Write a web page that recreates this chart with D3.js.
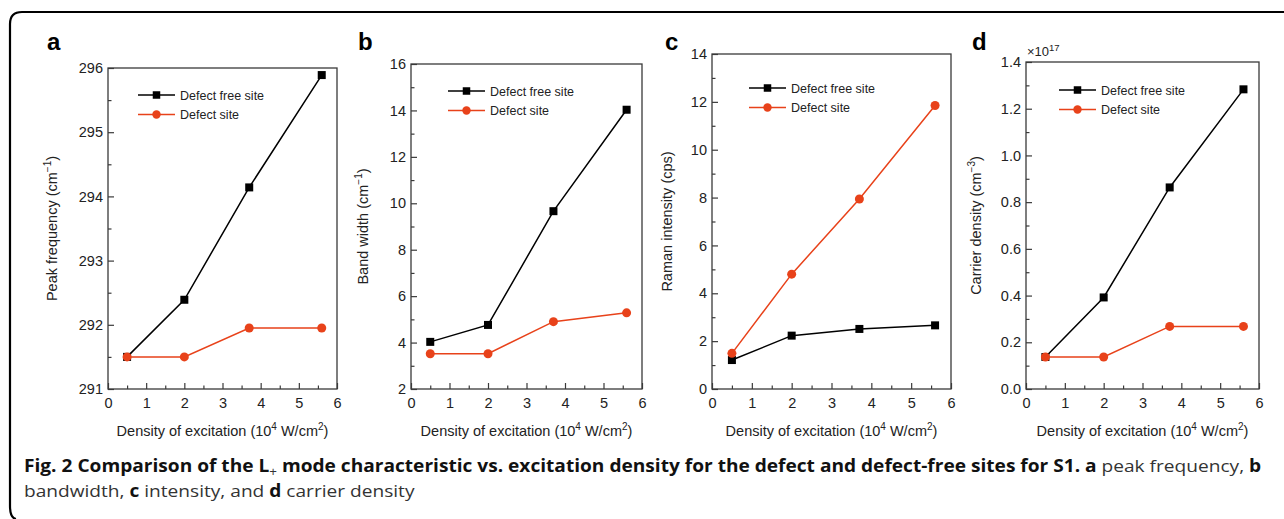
<!DOCTYPE html>
<html>
<head>
<meta charset="utf-8">
<script src="https://cdn.jsdelivr.net/npm/d3@7"></script>
<style>
  html, body { margin: 0; padding: 0; background: #fff; }
  svg { display: block; }
  text { font-family: "Liberation Sans", Arial, Helvetica, sans-serif; }
</style>
</head>
<body>
<svg id="chart" width="1284" height="519"></svg>
<script>
// ---------------- DATA ----------------
const xValues = [0.5, 2, 3.7, 5.6];
const seriesNames = ["Defect free site", "Defect site"];

const peakFreqFree   = [291.5, 292.39, 294.14, 295.89];
const peakFreqDefect = [291.5, 291.5, 291.95, 291.95];

const bandWidthFree   = [4.03, 4.76, 9.66, 14.03];
const bandWidthDefect = [3.52, 3.52, 4.9, 5.28];

const ramanFree   = [1.21, 2.23, 2.51, 2.66];
const ramanDefect = [1.49, 4.8, 7.94, 11.85];

const carrierFree   = [0.137, 0.392, 0.863, 1.283];
const carrierDefect = [0.137, 0.137, 0.268, 0.268];

const xTicks = [0, 1, 2, 3, 4, 5, 6];
const xMinorTicks = [0.5, 1.5, 2.5, 3.5, 4.5, 5.5];
const yTicksA = [291, 292, 293, 294, 295, 296];
const yTicksB = [2, 4, 6, 8, 10, 12, 14, 16];
const yTicksC = [0, 2, 4, 6, 8, 10, 12, 14];
const yTicksD = [0, 0.2, 0.4, 0.6, 0.8, 1.0, 1.2, 1.4];
const panelLetters = ["a", "b", "c", "d"];

// ---------------- LAYOUT ----------------
const panels = [
  { letter: panelLetters[0], free: peakFreqFree, defect: peakFreqDefect, yTicks: yTicksA, fmt: d3.format("d"),
    yTitle: ["Peak frequency (cm", "\u22121", ")"],
    L: 108, R: 337, T: 68, B: 389, letterX: 47, titleX: 57, legX: 138, legY: 95 },
  { letter: panelLetters[1], free: bandWidthFree, defect: bandWidthDefect, yTicks: yTicksB, fmt: d3.format("d"),
    yTitle: ["Band width (cm", "\u22121", ")"],
    L: 411, R: 642, T: 64, B: 389, letterX: 358, titleX: 368, legX: 448, legY: 91 },
  { letter: panelLetters[2], free: ramanFree, defect: ramanDefect, yTicks: yTicksC, fmt: d3.format("d"),
    yTitle: ["Raman intensity (cps)", null, null],
    L: 712, R: 951, T: 54, B: 389, letterX: 665, titleX: 672, legX: 749, legY: 88 },
  { letter: panelLetters[3], free: carrierFree, defect: carrierDefect, yTicks: yTicksD, fmt: d3.format(".1f"),
    yTitle: ["Carrier density (cm", "\u22123", ")"],
    L: 1026, R: 1259, T: 62, B: 389, letterX: 972, titleX: 981, legX: 1059, legY: 90, exp: "17" }
];

const BLACK = "#000000";
const RED = "#e8421a";
const AXIS = "#3a3a3a";

const svg = d3.select("#chart");

// outer rounded border (left + top visible)
svg.append("path")
  .attr("d", "M 1290 12 L 22 12 Q 10 12 10 24 L 10 506 Q 10 518 16 519")
  .attr("fill", "none").attr("stroke", "#000").attr("stroke-width", 2.2);

panels.forEach(p => {
  const g = svg.append("g");
  const x = d3.scaleLinear().domain([0, 6]).range([p.L, p.R]);
  const yMin = p.yTicks[0], yMax = p.yTicks[p.yTicks.length - 1];
  const y = d3.scaleLinear().domain([yMin, yMax]).range([p.B, p.T]);
  const step = p.yTicks[1] - p.yTicks[0];
  const yMinor = p.yTicks.slice(0, -1).map(v => v + step / 2);

  const xa = g.append("g").attr("transform", `translate(0,${p.B})`)
    .call(d3.axisBottom(x).tickValues(xTicks).tickSizeInner(-6).tickSizeOuter(0).tickPadding(9).tickFormat(d3.format("d")));
  const xm = g.append("g").attr("transform", `translate(0,${p.B})`)
    .call(d3.axisBottom(x).tickValues(xMinorTicks).tickSizeInner(-3.5).tickSizeOuter(0).tickFormat(""));
  const ya = g.append("g").attr("transform", `translate(${p.L},0)`)
    .call(d3.axisLeft(y).tickValues(p.yTicks).tickSizeInner(-6).tickSizeOuter(0).tickPadding(5).tickFormat(p.fmt));
  const ym = g.append("g").attr("transform", `translate(${p.L},0)`)
    .call(d3.axisLeft(y).tickValues(yMinor).tickSizeInner(-3.5).tickSizeOuter(0).tickFormat(""));
  [xa, xm, ya, ym].forEach(a => {
    a.select(".domain").remove();
    a.selectAll(".tick line").attr("stroke", AXIS).attr("stroke-width", 1.2);
    a.selectAll(".tick text").attr("fill", "#222").attr("font-size", 14.5)
      .attr("font-family", "Liberation Sans, Arial, sans-serif");
  });

  g.append("rect").attr("x", p.L).attr("y", p.T).attr("width", p.R - p.L).attr("height", p.B - p.T)
    .attr("fill", "none").attr("stroke", AXIS).attr("stroke-width", 1.3);

  if (p.exp) {
    const t = g.append("text").attr("x", p.L + 1).attr("y", p.T - 6).attr("font-size", 13).attr("fill", "#222");
    t.append("tspan").text("\u00d710");
    t.append("tspan").attr("font-size", 9.5).attr("dy", -5).text(p.exp);
  }

  g.append("text").attr("x", p.letterX).attr("y", 50).attr("font-size", 24).attr("font-weight", "bold")
    .attr("fill", "#000").text(p.letter);

  const yt = g.append("text")
    .attr("transform", `translate(${p.titleX},${(p.T + p.B) / 2}) rotate(-90)`)
    .attr("text-anchor", "middle").attr("font-size", 14.5).attr("fill", "#222");
  yt.append("tspan").text(p.yTitle[0]);
  if (p.yTitle[1]) {
    yt.append("tspan").attr("font-size", 10).attr("dy", -6).text(p.yTitle[1]);
    yt.append("tspan").attr("dy", 6).text(p.yTitle[2]);
  }

  const xt = g.append("text").attr("x", (p.L + p.R) / 2).attr("y", 436)
    .attr("text-anchor", "middle").attr("font-size", 14.5).attr("fill", "#222");
  xt.append("tspan").text("Density of excitation (10");
  xt.append("tspan").attr("font-size", 10).attr("dy", -6).text("4");
  xt.append("tspan").attr("dy", 6).text(" W/cm");
  xt.append("tspan").attr("font-size", 10).attr("dy", -6).text("2");
  xt.append("tspan").attr("dy", 6).text(")");

  const line = d3.line().x((d, i) => x(xValues[i])).y(d => y(d));
  const sq = 8, r = 4.5;
  g.append("path").datum(p.free).attr("d", line).attr("fill", "none").attr("stroke", BLACK).attr("stroke-width", 1.5);
  g.selectAll(".sq").data(p.free).enter().append("rect")
    .attr("x", (d, i) => x(xValues[i]) - sq / 2).attr("y", d => y(d) - sq / 2)
    .attr("width", sq).attr("height", sq).attr("fill", BLACK);
  g.append("path").datum(p.defect).attr("d", line).attr("fill", "none").attr("stroke", RED).attr("stroke-width", 1.5);
  g.selectAll(".ci").data(p.defect).enter().append("circle")
    .attr("cx", (d, i) => x(xValues[i])).attr("cy", d => y(d)).attr("r", r).attr("fill", RED);

  const leg = g.append("g").attr("transform", `translate(${p.legX},${p.legY})`);
  seriesNames.forEach((name, i) => {
    const row = leg.append("g").attr("transform", `translate(0,${i * 19.5})`);
    const c = i === 0 ? BLACK : RED;
    row.append("line").attr("x1", 0).attr("x2", 37).attr("y1", 0).attr("y2", 0).attr("stroke", c).attr("stroke-width", 1.5);
    if (i === 0) row.append("rect").attr("x", 18.5 - 3.75).attr("y", -3.75).attr("width", 7.5).attr("height", 7.5).attr("fill", c);
    else row.append("circle").attr("cx", 18.5).attr("cy", 0).attr("r", 4.2).attr("fill", c);
    row.append("text").attr("x", 42).attr("y", 0).attr("dy", "0.36em").attr("font-size", 12.5).attr("fill", "#222").text(name);
  });
});

// ---------------- CAPTION ----------------
const capFont = "'Open Sans', 'Noto Sans', sans-serif";
function caption(yPos, parts, targetWidth) {
  const t = svg.append("text").attr("x", 0).attr("y", 0).attr("font-size", 17)
    .style("font-family", capFont);
  parts.forEach(pt => {
    const s = t.append("tspan").text(pt.t)
      .attr("font-weight", pt.b ? 700 : 400)
      .attr("fill", pt.b ? "#111" : "#333");
    if (pt.sub) s.attr("font-size", 12).attr("dy", 4);
    if (pt.up) s.attr("dy", -4);
  });
  let sx = 1;
  if (targetWidth) {
    const w = t.node().getComputedTextLength();
    sx = targetWidth / w;
  }
  t.attr("transform", `translate(24,${yPos}) scale(${sx},1)`);
  return sx;
}
const sx = caption(472, [
  { t: "Fig. 2 Comparison of the L", b: true },
  { t: "+", b: false, sub: true },
  { t: " mode characteristic vs. excitation density for the defect and defect-free sites for S1.", b: true, up: true },
  { t: " a", b: true },
  { t: " peak frequency, ", b: false },
  { t: "b", b: true }
], 1238);
const t2 = svg.append("text").attr("font-size", 17).style("font-family", capFont)
  .attr("transform", `translate(24,497) scale(${sx},1)`);
[["bandwidth, ", false], ["c", true], [" intensity, and ", false], ["d", true], [" carrier density", false]]
  .forEach(([s, b]) => t2.append("tspan").text(s).attr("font-weight", b ? 700 : 400).attr("fill", b ? "#111" : "#333"));
</script>
</body>
</html>
